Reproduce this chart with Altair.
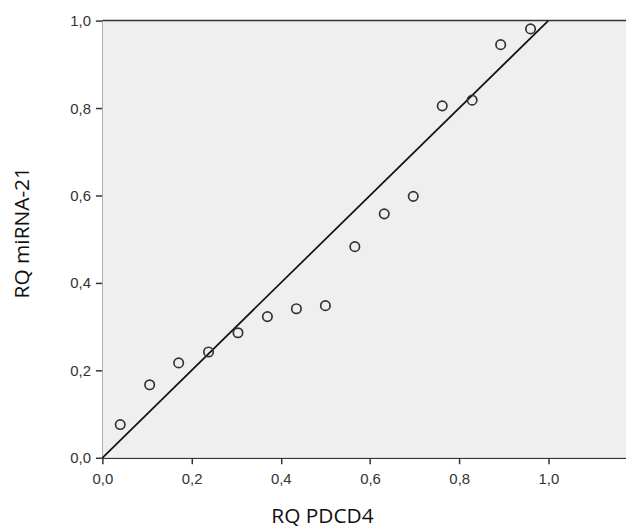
import altair as alt
import pandas as pd

# Data
rq_pdcd4 = [0.040, 0.106, 0.171, 0.238, 0.304, 0.370, 0.435, 0.500,
            0.566, 0.632, 0.697, 0.762, 0.829, 0.893, 0.960]
rq_mir21 = [0.076, 0.167, 0.217, 0.242, 0.286, 0.323, 0.341, 0.348,
            0.483, 0.558, 0.598, 0.805, 0.818, 0.945, 0.981]
line_x = [0.0, 1.0]
line_y = [0.0, 1.0]
x_max = 1.174
y_max = 1.0
tick_values = [0.0, 0.2, 0.4, 0.6, 0.8, 1.0]

pts = pd.DataFrame({"x": rq_pdcd4, "y": rq_mir21})
ref = pd.DataFrame({"x": line_x, "y": line_y})
top = pd.DataFrame({"x": [0.0], "x2": [x_max], "y": [y_max]})
bg = pd.DataFrame({"x": [0.0], "x2": [x_max], "y": [0.0], "y2": [y_max]})

label_expr = "replace(format(datum.value, '.1f'), '.', ',')"

xscale = alt.Scale(domain=[0, x_max], nice=False, zero=True)
yscale = alt.Scale(domain=[0, y_max], nice=False, zero=True)

xaxis = alt.Axis(
    title="RQ PDCD4", values=tick_values, labelExpr=label_expr, grid=False, labelFlush=False,
    titleX=221, titleY=65, titleAlign="center", titleBaseline="alphabetic",
    titleFont="Open Sans", titleFontSize=21, titleFontWeight="normal", titleColor="#111",
    labelFont="Liberation Sans", labelFontSize=15, labelColor="#333", labelPadding=8,
    domainColor="#333", domainWidth=1.5, tickColor="#333", tickSize=6, tickWidth=1.5,
)
yaxis = alt.Axis(
    title="RQ miRNA-21", values=tick_values, labelExpr=label_expr, grid=False, labelFlush=False,
    titleX=-80, titleY=213, titleAngle=270, titleAlign="center", titleBaseline="middle",
    titleFont="Open Sans", titleFontSize=21, titleFontWeight="normal", titleColor="#111",
    labelFont="Liberation Sans", labelFontSize=15, labelColor="#333", labelPadding=5,
    domainColor="#333", domainWidth=1.5, tickColor="#333", tickSize=7, tickWidth=1.5,
)

background = alt.Chart(bg).mark_rect(color="#efefef").encode(
    x=alt.X("x:Q", scale=xscale, axis=xaxis), x2="x2:Q",
    y=alt.Y("y:Q", scale=yscale, axis=yaxis), y2="y2:Q",
)

points = alt.Chart(pts).mark_point(
    shape="circle", filled=False, size=90, stroke="#333", strokeWidth=1.7, opacity=1
).encode(x=alt.X("x:Q", scale=xscale), y=alt.Y("y:Q", scale=yscale))

line = alt.Chart(ref).mark_line(color="#111", strokeWidth=1.7).encode(
    x=alt.X("x:Q", scale=xscale), y=alt.Y("y:Q", scale=yscale)
)

border = alt.Chart(top).mark_rule(color="#333", strokeWidth=1.5).encode(
    x=alt.X("x:Q", scale=xscale), x2="x2:Q", y=alt.Y("y:Q", scale=yscale)
)

chart = alt.layer(background, line, border, points).properties(
    width=527, height=440,
    padding={"left": 95, "top": 11, "right": 0, "bottom": 72},
    autosize=alt.AutoSizeParams(type="none"),
).configure_view(strokeWidth=0).configure(background="white")

chart.save("out.html", embed_options={"renderer": "svg", "actions": False})
